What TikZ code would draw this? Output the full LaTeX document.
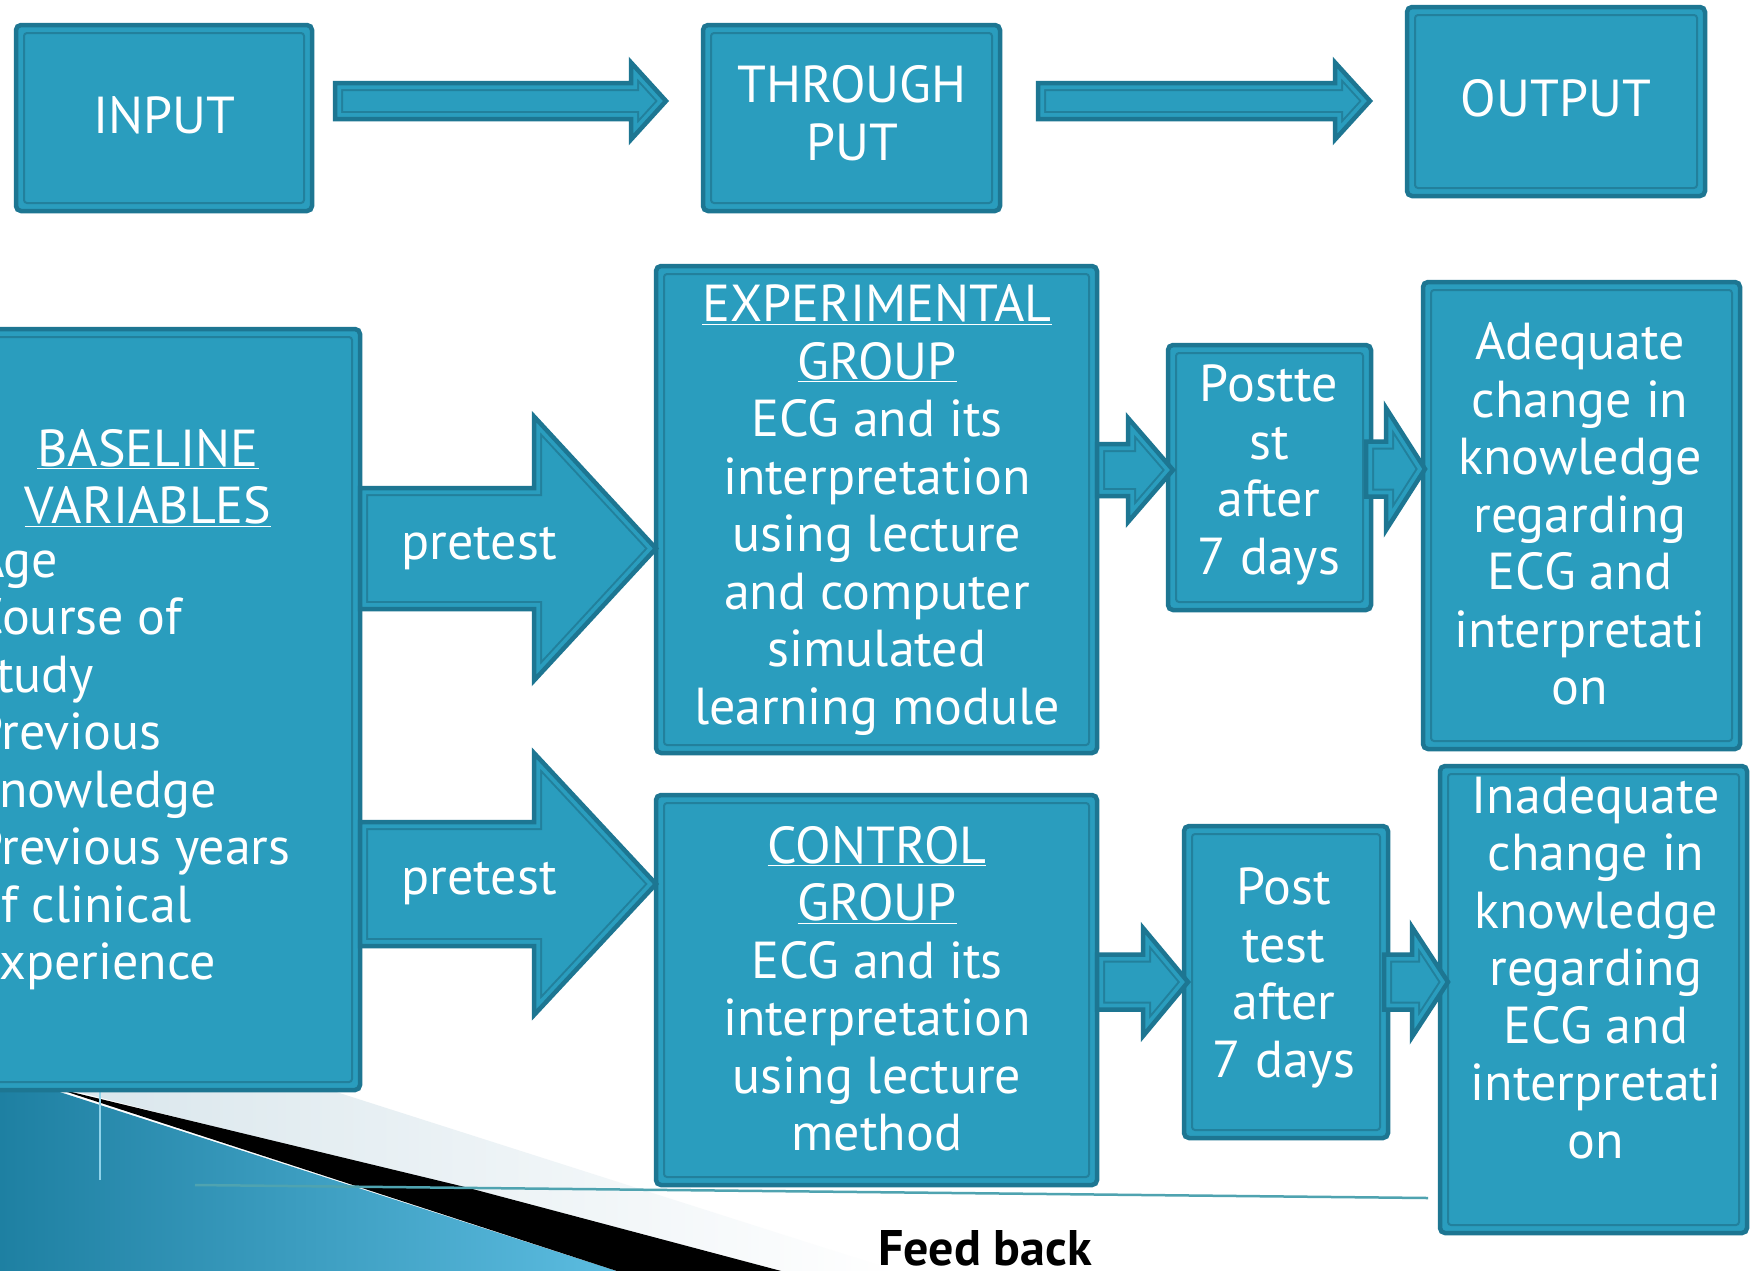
\documentclass[tikz,border=0pt]{standalone}
\usepackage{fontspec}
\setmainfont{PT Sans}
\usetikzlibrary{calc}
\definecolor{bxfill}{HTML}{2A9DBE}
\definecolor{bxborder}{HTML}{1D7692}
\definecolor{bxinner}{HTML}{22809C}
\definecolor{fbdark}{HTML}{1A7C9E}
\definecolor{fblight}{HTML}{5CBCE0}
\definecolor{fbgray}{HTML}{D9E6EC}
\definecolor{fbline}{HTML}{4FA3B0}
\definecolor{fbvert}{HTML}{8FD3EA}

\tikzset{
  box/.style={draw=bxborder, line width=4.5, fill=bxfill, rounded corners=5, inner sep=0, outer sep=0},
  innerbox/.style={draw=bxinner, line width=2, rounded corners=3},
  txt/.style={text=white, align=center, inner sep=0, font=\fontsize{52}{57.5}\selectfont},
  fbtxt/.style={text=black, inner sep=0, font=\bfseries\fontsize{50}{54}\selectfont},
}

% block arrow: #1 tail coordinate, #2 tip coordinate, #3 shaft half width, #4 head half width, #5 head length
\newcommand\blockarrow[5]{%
  \coordinate (#1-1) at ($(#1)+(0,#3)$);
  \coordinate (#1-2) at ($(#2)+(-#5,#3)$);
  \coordinate (#1-3) at ($(#2)+(-#5,#4)$);
  \coordinate (#1-4) at ($(#2)+(-#5,-#4)$);
  \coordinate (#1-5) at ($(#2)+(-#5,-#3)$);
  \coordinate (#1-6) at ($(#1)+(0,-#3)$);
  \begin{scope}
    \clip (#1-1) -- (#1-2) -- (#1-3) -- (#2) -- (#1-4) -- (#1-5) -- (#1-6) -- cycle;
    \fill[bxfill] (#1-1) -- (#1-2) -- (#1-3) -- (#2) -- (#1-4) -- (#1-5) -- (#1-6) -- cycle;
    \draw[bxinner, line width=16] (#1-1) -- (#1-2) -- (#1-3) -- (#2) -- (#1-4) -- (#1-5) -- (#1-6) -- cycle;
    \draw[bxfill, line width=12] (#1-1) -- (#1-2) -- (#1-3) -- (#2) -- (#1-4) -- (#1-5) -- (#1-6) -- cycle;
  \end{scope}
  \draw[bxborder, line width=4.5] (#1-1) -- (#1-2) -- (#1-3) -- (#2) -- (#1-4) -- (#1-5) -- (#1-6) -- cycle;
}

\begin{document}
\begin{tikzpicture}[x=1pt, y=-1pt]
\useasboundingbox (0,0) rectangle (1750,1270);
\fill[white] (0,0) rectangle (1750,1270);
\begin{scope}
\clip (0,0) rectangle (1750,1270);

% feedback graphic
\shade[left color=fbgray, right color=white] (70,1090) -- (785,1272) -- (900,1272) -- (330,1090) -- cycle;
\shade[left color=fbdark, right color=fblight] (-40,1060) -- (620,1272) -- (-40,1272) -- cycle;
\fill[black] (55,1088) -- (465,1187) -- (785,1272) -- (620,1272) -- cycle;
\draw[fbvert, line width=1.5] (100,1092) -- (100,1180);
\draw[fbline, line width=2.5] (195,1185) -- (1428,1198);

% boxes
\node[box, minimum width=296, minimum height=186] (input) at (164,118) {};
\node[box, minimum width=297, minimum height=186] (through) at (851.5,118) {};
\node[box, minimum width=298, minimum height=189] (output) at (1556,101.5) {};
\node[box, minimum width=430, minimum height=761] (base) at (145,709.5) {};
\node[box, minimum width=441, minimum height=487] (exp) at (876.5,509.5) {};
\node[box, minimum width=441, minimum height=390] (ctrl) at (876.5,990) {};
\node[box, minimum width=203, minimum height=265] (post1) at (1269.5,477.5) {};
\node[box, minimum width=204, minimum height=312] (post2) at (1286,982) {};
\node[box, minimum width=317, minimum height=467] (adeq) at (1581.5,515.5) {};
\node[box, minimum width=307, minimum height=467] (inadeq) at (1593.5,999.5) {};
\foreach \n in {input,through,output,base,exp,ctrl,post1,post2,adeq,inadeq}
  \draw[innerbox] ([xshift=8,yshift=-8]\n.north west) rectangle ([xshift=-8,yshift=8]\n.south east);

% block arrows
\coordinate (t1s) at ($(input.east |- 0,101)+(23,0)$);
\coordinate (t1e) at ($(through.west |- 0,101)+(-37,0)$);
\blockarrow{t1s}{t1e}{18}{38.5}{35}
\coordinate (t2s) at ($(through.east |- 0,101)+(38,0)$);
\coordinate (t2e) at ($(output.west |- 0,101)+(-37,0)$);
\blockarrow{t2s}{t2e}{18}{38.5}{35}

\coordinate (p1s) at (base.east |- 0,548.5);
\coordinate (p1e) at (exp.west |- 0,548.5);
\blockarrow{p1s}{p1e}{60.5}{132}{122}
\coordinate (p2s) at (base.east |- 0,884);
\coordinate (p2e) at (ctrl.west |- 0,884);
\blockarrow{p2s}{p2e}{62}{131}{122}

\coordinate (a1s) at (exp.east |- 0,470);
\coordinate (a1e) at ($(post1.west |- 0,470)+(5,0)$);
\blockarrow{a1s}{a1e}{26}{52}{45}
\coordinate (a2s) at ($(post1.east |- 0,469)+(-5,0)$);
\coordinate (a2e) at ($(adeq.west |- 0,469)+(2,0)$);
\blockarrow{a2s}{a2e}{27.5}{61}{39}
\coordinate (a3s) at (ctrl.east |- 0,982);
\coordinate (a3e) at ($(post2.west |- 0,982)+(4,0)$);
\blockarrow{a3s}{a3e}{27.5}{54}{45}
\coordinate (a4s) at ($(post2.east |- 0,982)+(-4,0)$);
\coordinate (a4e) at ($(inadeq.west |- 0,982)+(8,0)$);
\blockarrow{a4s}{a4e}{27.5}{55}{36}

% texts
\node[txt] (tinput) at (164,115) {INPUT};
\node[txt] (tthrough) at (852,113) {THROUGH\\PUT};
\node[txt] (toutput) at (1556,98) {OUTPUT};
\node[txt] (thead) at (148,478) {\underline{BASELINE}\\\underline{VARIABLES}};
\node[txt, align=left, anchor=west] (tlist) at (-26,765) {Age\\Course of\\study\\Previous\\knowledge\\Previous years\\of clinical\\experience};
\node[txt] (tpre1) at (479,549) {pretest};
\node[txt] (tpre2) at (479,884) {pretest};
\node[txt] (texp) at (877,510) {\underline{EXPERIMENTAL}\\\underline{GROUP}\\ECG and its\\interpretation\\using lecture\\and computer\\simulated\\learning module};
\node[txt] (tctrl) at (877,989) {\underline{CONTROL}\\\underline{GROUP}\\ECG and its\\interpretation\\using lecture\\method};
\node[txt] (tpost1) at (1269,475) {Postte\\st\\after\\7 days};
\node[txt] (tpost2) at (1284,978) {Post\\test\\after\\7 days};
\node[txt] (tadeq) at (1580,514) {Adequate\\change in\\knowledge\\regarding\\ECG and\\interpretati\\on};
\node[txt] (tinadeq) at (1596,968) {Inadequate\\change in\\knowledge\\regarding\\ECG and\\interpretati\\on};
\node[fbtxt] (tfeed) at (985,1248) {Feed back};
\end{scope}
\end{tikzpicture}
\end{document}
